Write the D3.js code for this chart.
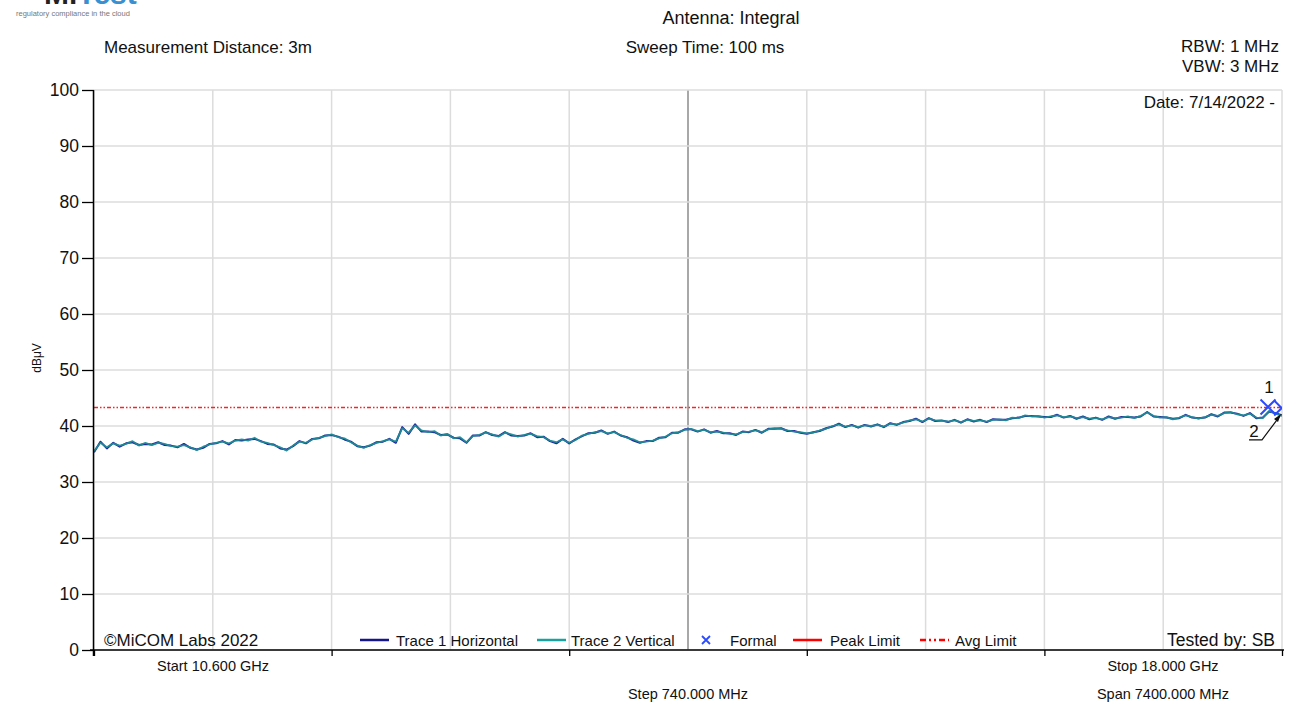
<!DOCTYPE html>
<html><head><meta charset="utf-8">
<script src="https://cdn.jsdelivr.net/npm/d3@7"></script>
<style>body{margin:0;background:#fff;}svg{display:block;font-family:"Liberation Sans",Arial,sans-serif;}</style>
</head><body>
<svg id="c" width="1291" height="706"></svg>
<script>
// ---- data ----
const startMHz = 10600, stopMHz = 18000, sweepStepMHz = 40;
const yTicks = [0,10,20,30,40,50,60,70,80,90,100];
const gridStepMHz = 740;
const avgLimit = 43.3;
const trace1Horizontal = [
35.3,37.2,36.0,37.0,36.3,36.9,37.1,36.6,36.8,36.7,
37.1,36.6,36.5,36.2,36.8,36.1,35.8,36.1,36.8,36.9,
37.3,36.7,37.5,37.4,37.6,37.7,37.3,36.8,36.7,36.0,
35.8,36.4,37.3,36.9,37.7,37.8,38.3,38.4,38.1,37.6,
37.2,36.4,36.2,36.5,37.1,37.2,37.7,37.0,39.8,38.6,
40.3,39.0,39.0,38.9,38.4,38.5,37.9,37.8,37.0,38.3,
38.3,38.9,38.4,38.2,38.9,38.3,38.2,38.3,38.7,38.0,
38.1,37.3,36.9,37.7,36.9,37.6,38.2,38.7,38.8,39.2,
38.6,39.0,38.3,38.0,37.4,37.0,37.3,37.3,37.9,38.0,
38.8,38.8,39.4,39.4,39.0,39.4,38.8,39.1,38.7,38.7,
38.4,39.0,38.9,39.3,38.8,39.5,39.5,39.6,39.1,39.1,
38.8,38.6,38.9,39.1,39.6,39.9,40.4,39.8,40.2,39.7,
40.2,39.9,40.3,39.8,40.5,40.2,40.7,40.9,41.3,40.7,
41.4,40.9,41.0,40.7,41.1,40.6,41.2,40.8,41.1,40.7,
41.2,41.1,41.1,41.4,41.5,41.8,41.8,41.7,41.6,41.6,
42.0,41.5,41.8,41.3,41.7,41.2,41.5,41.1,41.7,41.3,
41.6,41.6,41.5,41.7,42.5,41.7,41.6,41.5,41.3,41.4,
42.0,41.5,41.4,41.5,42.1,41.7,42.4,42.4,42.2,41.8,
42.3,41.4,41.5,42.6,42.3,41.9];
const trace2Vertical = [
35.5,37.0,36.2,36.9,36.5,36.8,37.3,36.5,37.0,36.6,
37.0,36.8,36.4,36.3,36.6,36.2,35.7,36.3,36.7,37.0,
37.2,36.9,37.4,37.6,37.4,37.9,37.2,37.0,36.6,36.2,
35.6,36.5,37.2,37.0,37.6,37.9,38.2,38.5,38.0,37.8,
37.1,36.5,36.1,36.6,37.0,37.3,37.6,37.2,39.6,38.8,
40.1,39.2,38.9,39.1,38.3,38.6,37.8,38.0,37.1,38.2,
38.4,38.8,38.5,38.1,38.8,38.5,38.1,38.4,38.6,38.2,
38.0,37.4,37.1,37.6,37.0,37.5,38.3,38.6,38.9,39.1,
38.7,38.9,38.4,37.9,37.6,37.1,37.2,37.4,37.8,38.1,
38.7,38.9,39.3,39.5,39.1,39.3,38.9,39.0,38.8,38.6,
38.5,38.9,39.0,39.2,38.9,39.4,39.6,39.5,39.2,39.0,
38.9,38.7,38.8,39.2,39.5,40.0,40.3,39.9,40.1,39.8,
40.1,40.0,40.2,39.9,40.4,40.3,40.6,41.0,41.2,40.8,
41.3,41.0,40.9,40.8,41.0,40.7,41.1,40.9,41.0,40.8,
41.1,41.2,41.0,41.5,41.4,41.9,41.7,41.8,41.5,41.7,
41.9,41.6,41.7,41.4,41.6,41.3,41.4,41.2,41.6,41.4,
41.5,41.7,41.4,41.8,42.4,41.8,41.5,41.6,41.2,41.5,
41.9,41.6,41.3,41.6,42.0,41.8,42.3,42.5,42.1,41.9,
42.2,41.5,41.4,42.7,42.2,41.8];
const formalMarkers = [{f:17913, v:43.4, label:"1"}, {f:17998, v:43.2, label:""}];
const marker2 = {f:18000, v:41.8, label:"2"};
const legendItems = [
  {label:"Trace 1 Horizontal", kind:"line", color:"#14148c"},
  {label:"Trace 2 Vertical", kind:"line", color:"#1aa39e"},
  {label:"Formal", kind:"x", color:"#2a4bff"},
  {label:"Peak Limit", kind:"line", color:"#ff0000"},
  {label:"Avg Limit", kind:"dashdot", color:"#ff0000"}
];

// ---- drawing ----
const svg = d3.select("#c");
const L = 94, R = 1282, T = 90, B = 650;
const x = d3.scaleLinear().domain([startMHz, stopMHz]).range([L, R]);
const y = d3.scaleLinear().domain([0, 100]).range([B, T]);

svg.append("defs").append("clipPath").attr("id","pc")
  .append("rect").attr("x",L).attr("y",T).attr("width",R-L).attr("height",B-T);

// logo
svg.append("text").attr("x",44).attr("y",4).attr("font-size",30).attr("font-weight","bold")
  .attr("fill","#222").text("Mi").append("tspan").attr("fill","#3a8fd0").text("Test");
svg.append("text").attr("x",16).attr("y",16).attr("font-size",7.5).attr("fill","#777")
  .text("regulatory compliance in the cloud");

// header texts
const hdr = svg.append("g").attr("font-size",17).attr("fill","#111");
hdr.append("text").attr("x",731).attr("y",24).attr("text-anchor","middle").attr("font-size",18).text("Antenna: Integral");
hdr.append("text").attr("x",104).attr("y",53).text("Measurement Distance: 3m");
hdr.append("text").attr("x",705).attr("y",53).attr("text-anchor","middle").text("Sweep Time: 100 ms");
hdr.append("text").attr("x",1279).attr("y",52).attr("text-anchor","end").text("RBW: 1 MHz");
hdr.append("text").attr("x",1279).attr("y",72).attr("text-anchor","end").text("VBW: 3 MHz");

// grid
const grid = svg.append("g");
const vLines = d3.range(startMHz, stopMHz + 1, gridStepMHz);
grid.selectAll("line.v").data(vLines).join("line")
  .attr("x1",d=>x(d)).attr("x2",d=>x(d)).attr("y1",T).attr("y2",B)
  .attr("stroke",(d,i)=> i===5 ? "#a8a8a8" : "#dcdcdc")
  .attr("stroke-width",(d,i)=> i===5 ? 2 : 1.5);
grid.selectAll("line.h").data(yTicks).join("line")
  .attr("x1",L).attr("x2",R).attr("y1",d=>y(d)).attr("y2",d=>y(d))
  .attr("stroke","#dcdcdc").attr("stroke-width",1.5);

// date
svg.append("text").attr("x",1275).attr("y",108).attr("text-anchor","end")
  .attr("font-size",17).attr("fill","#111").text("Date: 7/14/2022 -");

// avg limit
const plot = svg.append("g").attr("clip-path","url(#pc)");
plot.append("line").attr("x1",x(startMHz)).attr("x2",x(stopMHz))
  .attr("y1",y(avgLimit)).attr("y2",y(avgLimit))
  .attr("stroke","#ff2020").attr("stroke-width",1.3).attr("stroke-dasharray","4,2,1.5,2,1.5,2");

// traces
const freqs = trace2Vertical.map((_, i) => startMHz + i * sweepStepMHz);
const line = d3.line().x((d,i)=>x(freqs[i])).y(d=>y(d));
plot.append("path").datum(trace1Horizontal).attr("d",line).attr("fill","none")
  .attr("stroke","#23239a").attr("stroke-width",2).attr("stroke-linejoin","round");
plot.append("path").datum(trace2Vertical).attr("d",line).attr("fill","none")
  .attr("stroke","#1d8f96").attr("stroke-width",1.8).attr("stroke-linejoin","round").attr("opacity",0.92);

// formal markers (X)
plot.selectAll("path.fm").data(formalMarkers).join("path")
  .attr("d",d=>{const cx=x(d.f), cy=y(d.v), s=7.5; return `M${cx-s},${cy-s}L${cx+s},${cy+s}M${cx-s},${cy+s}L${cx+s},${cy-s}`;})
  .attr("stroke","#2a4bff").attr("stroke-width",2).attr("fill","none");
svg.selectAll("text.fml").data(formalMarkers.filter(d=>d.label)).join("text")
  .attr("x",d=>x(d.f)+1).attr("y",d=>y(d.v)-14).attr("text-anchor","middle")
  .attr("font-size",17).attr("fill","#111").text(d=>d.label);

// marker 2 with leader
{
  const mx = x(marker2.f)-2, my = y(marker2.v);
  svg.append("path").attr("d",`M${mx-31},${my+24}L${mx-18},${my+24}L${mx},${my}`)
    .attr("stroke","#111").attr("stroke-width",1.2).attr("fill","none");
  svg.append("path").attr("d",`M${mx+1},${my-2}L${mx-6},${my+3}L${mx-2},${my+6}Z`).attr("fill","#111");
  svg.append("text").attr("x",mx-26).attr("y",my+21).attr("text-anchor","middle")
    .attr("font-size",17).attr("fill","#111").text(marker2.label);
}

// axes
const yAxis = d3.axisLeft(y).tickValues(yTicks).tickSize(12).tickPadding(3);
const gy = svg.append("g").attr("transform",`translate(${L},0)`).call(yAxis);
gy.select(".domain").attr("stroke","#000").attr("stroke-width",1.5).attr("d",`M-0.5,${T}V${B+6}`);
gy.selectAll(".tick line").attr("stroke","#000").attr("stroke-width",1.3);
gy.selectAll(".tick text").attr("font-size",17.5).attr("fill","#111").attr("font-family","Liberation Sans, Arial, sans-serif");

const xAxis = d3.axisBottom(x).tickValues(d3.range(startMHz, stopMHz + 1, gridStepMHz*2)).tickSize(6).tickFormat("");
const gx = svg.append("g").attr("transform",`translate(0,${B})`).call(xAxis);
gx.select(".domain").attr("stroke","#000").attr("stroke-width",1.5).attr("d",`M${L-4},0H${R+2}`);
gx.selectAll(".tick line").attr("stroke","#000").attr("stroke-width",1.3);

// y title
svg.append("text").attr("transform","translate(41,358) rotate(-90)").attr("text-anchor","middle")
  .attr("font-size",12).attr("fill","#111").text("dBμV");

// bottom in-plot texts
svg.append("text").attr("x",104).attr("y",646).attr("font-size",17).attr("fill","#111").text("©MiCOM Labs 2022");
svg.append("text").attr("x",1275).attr("y",646).attr("text-anchor","end").attr("font-size",17.5).attr("fill","#111").text("Tested by: SB");

// legend
const legX = [360, 537, 700, 793, 920];
const legTextX = [396, 571, 730, 830, 955];
const lg = svg.append("g").attr("font-size",15).attr("fill","#111");
legendItems.forEach((it, i) => {
  const gx0 = legX[i], gy0 = 641;
  if (it.kind === "line") {
    lg.append("line").attr("x1",gx0).attr("x2",gx0+29).attr("y1",gy0-1).attr("y2",gy0-1)
      .attr("stroke",it.color).attr("stroke-width",2.5);
  } else if (it.kind === "dashdot") {
    lg.append("line").attr("x1",gx0).attr("x2",gx0+29).attr("y1",gy0-1).attr("y2",gy0-1)
      .attr("stroke",it.color).attr("stroke-width",2.5).attr("stroke-dasharray","6,3,2,3,2,3");
  } else {
    lg.append("path").attr("d",`M${gx0+2},${gy0-5}L${gx0+10},${gy0+3}M${gx0+2},${gy0+3}L${gx0+10},${gy0-5}`)
      .attr("stroke",it.color).attr("stroke-width",1.8);
  }
  lg.append("text").attr("x", legTextX[i]).attr("y",gy0+5).text(it.label);
});

// frequency labels
const fl = svg.append("g").attr("font-size",14.5).attr("fill","#111").attr("text-anchor","middle");
fl.append("text").attr("x",213).attr("y",671).text("Start 10.600 GHz");
fl.append("text").attr("x",1163).attr("y",671).text("Stop 18.000 GHz");
fl.append("text").attr("x",688).attr("y",699).text("Step 740.000 MHz");
fl.append("text").attr("x",1163).attr("y",699).text("Span 7400.000 MHz");
</script>
</body></html>
